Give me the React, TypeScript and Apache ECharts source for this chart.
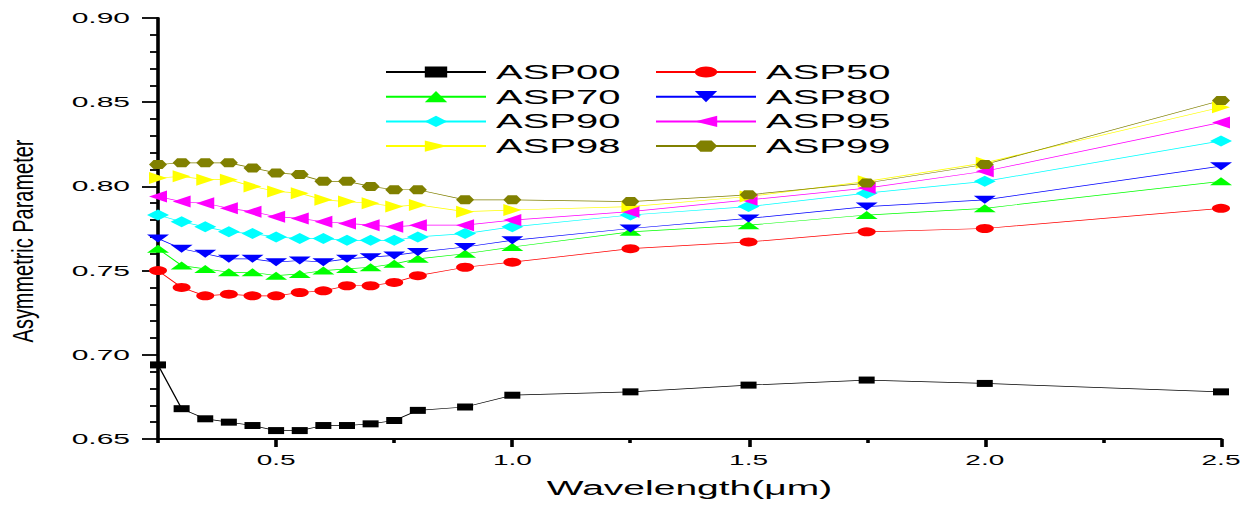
import React, { useEffect, useRef } from 'react';
import * as echarts from 'echarts';

// ---- data ----
const wavelengths = [0.25, 0.3, 0.35, 0.4, 0.45, 0.5, 0.55, 0.6, 0.65, 0.7, 0.75, 0.8, 0.9, 1.0, 1.25, 1.5, 1.75, 2.0, 2.5];

const asp00 = [0.694, 0.668, 0.662, 0.660, 0.658, 0.655, 0.655, 0.658, 0.658, 0.659, 0.661, 0.667, 0.669, 0.676, 0.678, 0.682, 0.685, 0.683, 0.678];
const asp50 = [0.750, 0.740, 0.735, 0.736, 0.735, 0.735, 0.737, 0.738, 0.741, 0.741, 0.743, 0.747, 0.752, 0.755, 0.763, 0.767, 0.773, 0.775, 0.787];
const asp70 = [0.763, 0.753, 0.751, 0.749, 0.749, 0.747, 0.748, 0.750, 0.751, 0.752, 0.754, 0.757, 0.760, 0.764, 0.773, 0.777, 0.783, 0.787, 0.803];
const asp80 = [0.769, 0.763, 0.760, 0.757, 0.757, 0.755, 0.756, 0.755, 0.757, 0.758, 0.759, 0.761, 0.764, 0.768, 0.775, 0.781, 0.788, 0.792, 0.812];
const asp90 = [0.783, 0.779, 0.776, 0.773, 0.772, 0.770, 0.769, 0.769, 0.768, 0.768, 0.768, 0.770, 0.772, 0.776, 0.783, 0.788, 0.796, 0.803, 0.827];
const asp95 = [0.794, 0.791, 0.790, 0.787, 0.785, 0.782, 0.781, 0.779, 0.778, 0.777, 0.776, 0.777, 0.777, 0.780, 0.785, 0.792, 0.799, 0.809, 0.838];
const asp98 = [0.805, 0.806, 0.804, 0.804, 0.800, 0.797, 0.796, 0.792, 0.791, 0.790, 0.788, 0.789, 0.785, 0.786, 0.788, 0.794, 0.803, 0.814, 0.847];
const asp99 = [0.813, 0.814, 0.814, 0.814, 0.811, 0.808, 0.807, 0.803, 0.803, 0.800, 0.798, 0.798, 0.792, 0.792, 0.791, 0.795, 0.802, 0.813, 0.851];

const seriesNames = ['ASP00', 'ASP50', 'ASP70', 'ASP80', 'ASP90', 'ASP95', 'ASP98', 'ASP99'];
const seriesValues = [asp00, asp50, asp70, asp80, asp90, asp95, asp98, asp99];
const seriesColors = ['#000000', '#ff0000', '#00ff00', '#0000ff', '#00ffff', '#ff00ff', '#ffff00', '#808000'];

const legendLeftNames = ['ASP00', 'ASP70', 'ASP90', 'ASP98'];
const legendRightNames = ['ASP50', 'ASP80', 'ASP95', 'ASP99'];

const xMajorTicks = [0.5, 1.0, 1.5, 2.0, 2.5];
const xMinorTicks = [0.25, 0.75, 1.25, 1.75, 2.25];

const xTitle = 'Wavelength(μm)';
const yTitle = 'Asymmetric Parameter';

// ---- styling ----
const FONT = '"Liberation Sans", Arial, Helvetica, sans-serif';
const STRETCH = 2; // the reference is horizontally stretched
const WIDTH = 1254 / STRETCH;
const HEIGHT = 506;

const symbols = [
  'rect',
  'circle',
  'path://M5,0 L10,8 L0,8 Z',
  'path://M0,0 L10,0 L5,8 Z',
  'diamond',
  'path://M0,5 L9,0 L9,10 Z',
  'path://M0,0 L9,5 L0,10 Z',
  'path://M0,5 L2.5,0 L7.5,0 L10,5 L7.5,10 L2.5,10 Z',
];
const symbolSizes: any[] = [[8, 7], [9, 9], [11, 8], [11, 8], [11, 11], [9, 12], [9, 12], [9, 9]];

const axisLineStyle = { color: '#000', width: 1.8 };

export default function App() {
  const ref = useRef<HTMLDivElement>(null);

  useEffect(() => {
    if (!ref.current) return;
    const chart = echarts.init(ref.current, null, { renderer: 'svg' });

    const series = seriesNames.map((name, i) => ({
      name,
      type: 'line',
      xAxisIndex: 0,
      yAxisIndex: 0,
      data: wavelengths.map((x, j) => [x, seriesValues[i][j]]),
      symbol: symbols[i],
      symbolSize: symbolSizes[i],
      showSymbol: true,
      itemStyle: { color: seriesColors[i] },
      lineStyle: { color: seriesColors[i], width: 0.7 },
      emphasis: { disabled: true },
    }));

    const legendBase = {
      orient: 'vertical',
      top: 62,
      padding: 0,
      itemWidth: 50,
      itemHeight: 14,
      itemGap: 4.7,
      selectedMode: false,
      textStyle: { fontSize: 20, lineHeight: 19, color: '#000', fontFamily: FONT },
    };

    const option: any = {
      animation: false,
      backgroundColor: '#ffffff',
      textStyle: { fontFamily: FONT },
      grid: { left: 79, right: 16.5, top: 18, bottom: 67, containLabel: false },
      legend: [
        { ...legendBase, left: 192, data: legendLeftNames },
        { ...legendBase, left: 327, data: legendRightNames },
      ],
      xAxis: [
        {
          type: 'value',
          min: 0.25,
          max: 2.5,
          position: 'bottom',
          axisLine: { show: true, lineStyle: axisLineStyle },
          axisTick: { show: true, customValues: xMajorTicks, length: 8, lineStyle: axisLineStyle },
          axisLabel: {
            customValues: xMajorTicks,
            formatter: (v: number) => v.toFixed(1),
            fontSize: 14,
            color: '#000',
            margin: 14,
            fontFamily: FONT,
          },
          splitLine: { show: false },
          name: xTitle,
          nameLocation: 'middle',
          nameGap: 39,
          nameTextStyle: { fontSize: 19.5, color: '#000', fontFamily: FONT },
        },
        {
          type: 'value',
          min: 0.25,
          max: 2.5,
          position: 'bottom',
          axisLine: { show: false },
          axisTick: { show: true, customValues: xMinorTicks, length: 4, lineStyle: axisLineStyle },
          axisLabel: { show: false },
          splitLine: { show: false },
        },
      ],
      yAxis: {
        type: 'value',
        min: 0.65,
        max: 0.9,
        interval: 0.05,
        axisLine: { show: true, lineStyle: axisLineStyle },
        axisTick: { show: true, length: 8, lineStyle: axisLineStyle },
        minorTick: { show: true, splitNumber: 5, length: 4, lineStyle: axisLineStyle },
        axisLabel: {
          formatter: (v: number) => v.toFixed(2),
          fontSize: 15,
          color: '#000',
          margin: 14,
          fontFamily: FONT,
        },
        splitLine: { show: false },
        minorSplitLine: { show: false },
      },
      graphic: [
        {
          type: 'text',
          x: 11,
          y: 241,
          rotation: Math.PI / 2,
          scaleX: 1.33,
          style: {
            text: yTitle,
            fontSize: 15,
            fontFamily: FONT,
            fill: '#000',
            align: 'center',
            verticalAlign: 'middle',
          },
        },
      ],
      series,
    };

    chart.setOption(option);
    return () => chart.dispose();
  }, []);

  return (
    <div
      ref={ref}
      style={{
        position: 'absolute',
        left: 0,
        top: 0,
        width: WIDTH,
        height: HEIGHT,
        transform: `scaleX(${STRETCH})`,
        transformOrigin: '0 0',
        background: '#fff',
      }}
    />
  );
}
